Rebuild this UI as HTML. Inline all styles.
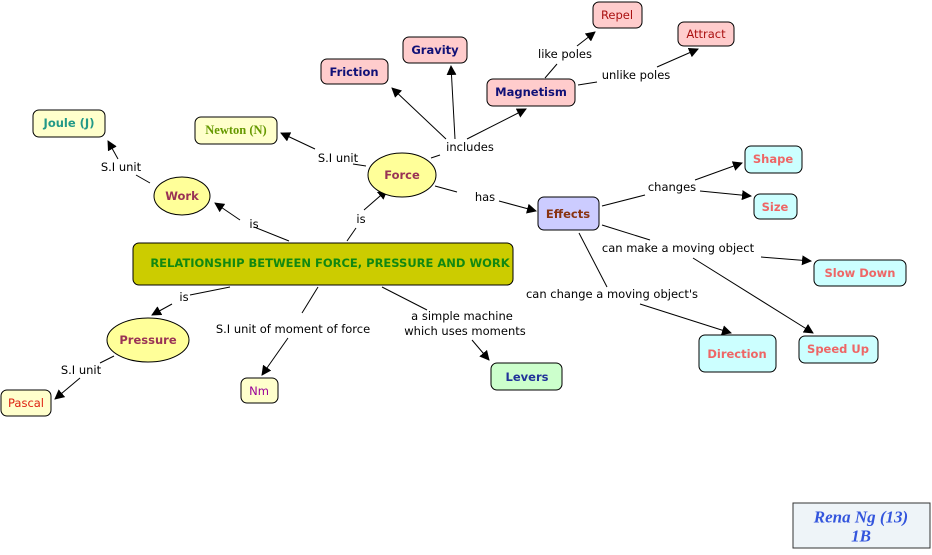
<!DOCTYPE html>
<html><head><meta charset="utf-8"><style>
body{margin:0;background:#fff;width:932px;height:550px;overflow:hidden}
svg text{font-family:"DejaVu Sans","Liberation Sans",sans-serif}
.n{font-size:11.5px;font-weight:bold;text-anchor:middle;dominant-baseline:central}
.l{font-size:11.5px;text-anchor:middle;dominant-baseline:central;fill:#000}
.r{stroke:#000;stroke-width:1}
</style></head><body>
<svg width="932" height="550" viewBox="0 0 932 550" xmlns="http://www.w3.org/2000/svg">
<defs><marker id="a" markerWidth="10" markerHeight="10" refX="9" refY="5" orient="auto" markerUnits="userSpaceOnUse"><path d="M0,0 L10,5 L0,10 z" fill="#000"/></marker></defs>
<g stroke="#000" stroke-width="1" fill="none">
<line x1="289" y1="241" x2="254" y2="227"/><line x1="240" y1="220" x2="215" y2="203" marker-end="url(#a)"/>
<line x1="347" y1="241" x2="356" y2="228"/><line x1="364" y1="210" x2="387" y2="190" marker-end="url(#a)"/>
<line x1="150" y1="183" x2="136" y2="175"/><line x1="118" y1="159" x2="108" y2="141" marker-end="url(#a)"/>
<line x1="366" y1="166" x2="353" y2="164"/><line x1="315" y1="149" x2="281" y2="133" marker-end="url(#a)"/>
<line x1="431" y1="158" x2="440" y2="155"/>
<line x1="446" y1="139" x2="392" y2="88" marker-end="url(#a)"/>
<line x1="455" y1="139" x2="451" y2="66" marker-end="url(#a)"/>
<line x1="467" y1="139" x2="526" y2="109" marker-end="url(#a)"/>
<line x1="545" y1="78" x2="557" y2="64"/><line x1="577" y1="46" x2="595" y2="32" marker-end="url(#a)"/>
<line x1="578" y1="85" x2="597" y2="82"/><line x1="657" y1="67" x2="698" y2="49" marker-end="url(#a)"/>
<line x1="435" y1="186" x2="457" y2="192"/><line x1="499" y1="201" x2="536" y2="211" marker-end="url(#a)"/>
<line x1="602" y1="206" x2="645" y2="195"/>
<line x1="695" y1="180" x2="742" y2="163" marker-end="url(#a)"/>
<line x1="700" y1="191" x2="751" y2="196" marker-end="url(#a)"/>
<line x1="602" y1="225" x2="650" y2="240"/>
<line x1="761" y1="257" x2="811" y2="261" marker-end="url(#a)"/>
<line x1="693" y1="258" x2="813" y2="333" marker-end="url(#a)"/>
<line x1="579" y1="233" x2="607" y2="287"/><line x1="640" y1="304" x2="731" y2="333" marker-end="url(#a)"/>
<line x1="230" y1="287" x2="190" y2="295"/><line x1="172" y1="304" x2="152" y2="315" marker-end="url(#a)"/>
<line x1="318" y1="287" x2="302" y2="313"/><line x1="288" y1="338" x2="262" y2="375" marker-end="url(#a)"/>
<line x1="382" y1="287" x2="427" y2="310"/><line x1="472" y1="340" x2="489" y2="360" marker-end="url(#a)"/>
<line x1="114" y1="356" x2="100" y2="363"/><line x1="80" y1="378" x2="55" y2="399" marker-end="url(#a)"/>
</g>
<text class="l" x="254" y="224">is</text>
<text class="l" x="361" y="219">is</text>
<text class="l" x="121" y="167">S.I unit</text>
<text class="l" x="338" y="158">S.I unit</text>
<text class="l" x="470" y="147">includes</text>
<text class="l" x="565" y="54">like poles</text>
<text class="l" x="636" y="75">unlike poles</text>
<text class="l" x="485" y="197">has</text>
<text class="l" x="672" y="187">changes</text>
<text class="l" x="678" y="248">can make a moving object</text>
<text class="l" x="612" y="294">can change a moving object's</text>
<text class="l" x="184" y="297">is</text>
<text class="l" x="293" y="329">S.I unit of moment of force</text>
<text class="l" x="462" y="316">a simple machine</text>
<text class="l" x="465" y="331">which uses moments</text>
<text class="l" x="81" y="370">S.I unit</text>
<g class="r">
<rect x="593" y="2" width="49" height="26" rx="6" fill="#ffcccc"/>
<rect x="678" y="22" width="56" height="24" rx="6" fill="#ffcccc"/>
<rect x="403" y="37" width="64" height="26" rx="6" fill="#ffcccc"/>
<rect x="321" y="59" width="67" height="25" rx="6" fill="#ffcccc"/>
<rect x="487" y="79" width="88" height="27" rx="6" fill="#ffcccc"/>
<rect x="33" y="110" width="72" height="27" rx="6" fill="#ffffcc"/>
<rect x="195" y="117" width="82" height="27" rx="6" fill="#ffffcc"/>
<ellipse cx="402" cy="175" rx="34" ry="22" fill="#ffff99"/>
<ellipse cx="182" cy="196" rx="28" ry="19" fill="#ffff99"/>
<rect x="745" y="146" width="57" height="27" rx="6" fill="#ccffff"/>
<rect x="754" y="194" width="43" height="25" rx="6" fill="#ccffff"/>
<rect x="538" y="197" width="61" height="33" rx="6" fill="#ccccff"/>
<rect x="133" y="243" width="380" height="42" rx="6" fill="#cccc00"/>
<rect x="814" y="260" width="92" height="26" rx="6" fill="#ccffff"/>
<ellipse cx="148" cy="340" rx="41" ry="22" fill="#ffff99"/>
<rect x="699" y="335" width="77" height="37" rx="6" fill="#ccffff"/>
<rect x="799" y="336" width="79" height="27" rx="6" fill="#ccffff"/>
<rect x="491" y="363" width="71" height="27" rx="6" fill="#ccffcc"/>
<rect x="241" y="378" width="37" height="25" rx="6" fill="#ffffcc"/>
<rect x="1" y="390" width="50" height="26" rx="6" fill="#ffffcc"/>
<rect x="793" y="503" width="137" height="45" fill="#eef4f8" stroke="#333"/>
</g>
<text class="l" x="617" y="15" style="fill:#aa1111">Repel</text>
<text class="l" x="706" y="34" style="fill:#aa1111">Attract</text>
<text class="n" x="435" y="50" fill="#111177">Gravity</text>
<text class="n" x="354" y="72" fill="#111177">Friction</text>
<text class="n" x="531" y="92" fill="#111177">Magnetism</text>
<text class="n" x="69" y="123" fill="#229988">Joule (J)</text>
<text class="n" x="236" y="130" fill="#669900" style="font-family:'Liberation Serif',serif;font-size:12.5px">Newton (N)</text>
<text class="n" x="402" y="175" fill="#993355">Force</text>
<text class="n" x="182" y="196" fill="#993355">Work</text>
<text class="n" x="773" y="159" fill="#ee6666">Shape</text>
<text class="n" x="775" y="207" fill="#ee6666">Size</text>
<text class="n" x="568" y="214" fill="#883311">Effects</text>
<text class="n" x="330" y="263" fill="#118811" style="font-size:11.5px">RELATIONSHIP BETWEEN FORCE, PRESSURE AND WORK</text>
<text class="n" x="860" y="273" fill="#ee6666">Slow Down</text>
<text class="n" x="148" y="340" fill="#993355">Pressure</text>
<text class="n" x="737" y="354" fill="#ee6666">Direction</text>
<text class="n" x="838" y="349" fill="#ee6666">Speed Up</text>
<text class="n" x="527" y="377" fill="#223399">Levers</text>
<text class="l" x="259" y="391" style="fill:#990099">Nm</text>
<text class="l" x="26" y="403" style="fill:#dd2211">Pascal</text>
<text x="861" y="517" text-anchor="middle" dominant-baseline="central" fill="#3355dd" style="font-family:'Liberation Serif',serif;font-style:italic;font-weight:bold;font-size:17px">Rena Ng (13)</text>
<text x="861" y="536" text-anchor="middle" dominant-baseline="central" fill="#3355dd" style="font-family:'Liberation Serif',serif;font-style:italic;font-weight:bold;font-size:17px">1B</text>
</svg>
</body></html>
